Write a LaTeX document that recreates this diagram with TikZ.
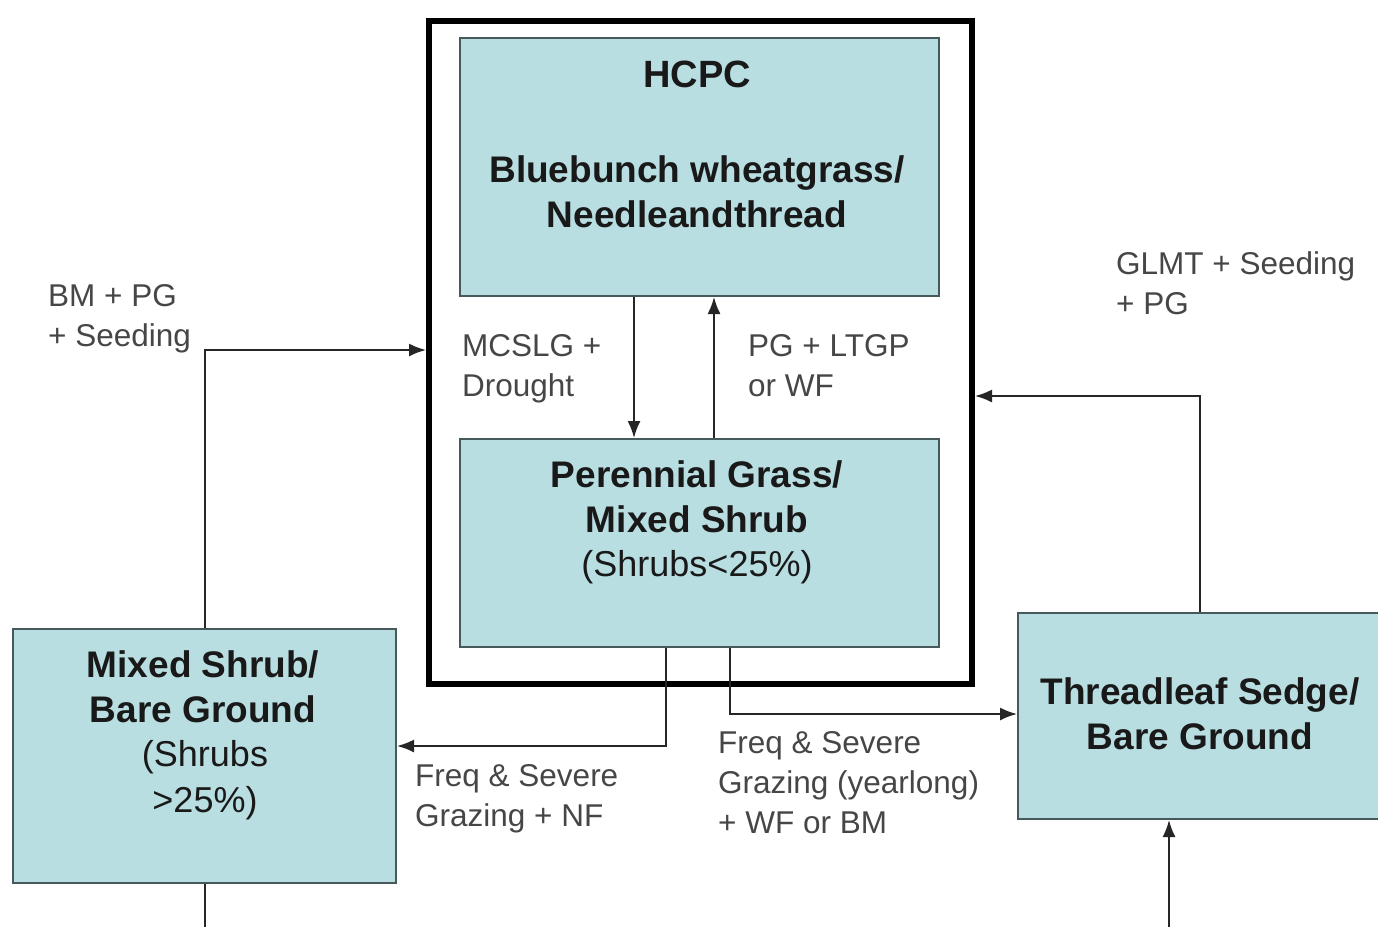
\documentclass[tikz,border=0pt]{standalone}
\usepackage{fontspec}
\setmainfont{Liberation Sans}
\usetikzlibrary{arrows.meta}
\definecolor{boxfill}{RGB}{184,222,225}
\definecolor{boxline}{RGB}{70,90,92}
\definecolor{lbl}{RGB}{70,70,70}
\definecolor{ttl}{RGB}{25,25,25}
\tikzset{
  box/.style={draw=boxline, line width=2pt, fill=boxfill, anchor=north west, inner sep=0pt},
  frame/.style={draw=black, line width=6pt, anchor=north west, inner sep=0pt},
  ttltxt/.style={text=ttl, font=\fontsize{37}{45}\selectfont\bfseries, align=center, inner sep=0pt},
  subtxt/.style={text=ttl, font=\fontsize{36}{46}\selectfont, align=center, inner sep=0pt},
  lbltxt/.style={text=lbl, font=\fontsize{31.5}{40}\selectfont, align=left, anchor=north west, inner sep=0pt},
  conn/.style={draw=black!85, line width=1.8pt},
  arr/.style={conn, -{Latex[length=17pt,width=13pt]}},
}
\begin{document}
\begin{tikzpicture}[x=1pt,y=-1pt]
\useasboundingbox (0,0) rectangle (1378,927);
% frame and boxes
\node[frame, minimum width=543, minimum height=663] (frame) at (426,18) {};
\node[box, minimum width=479, minimum height=258] (hcpc) at (459,37) {};
\node[box, minimum width=479, minimum height=208] (per) at (459,438) {};
\node[box, minimum width=383, minimum height=254] (ms) at (12,628) {};
\node[box, minimum width=370, minimum height=206] (ts) at (1017,612) {};
% texts
\node[ttltxt, anchor=center, font=\fontsize{38}{45}\selectfont\bfseries] (t1) at (697,74) {HCPC};
\node[ttltxt, anchor=center] (t2) at (697,192) {Bluebunch wheatgrass/\\Needleandthread};
\node[ttltxt, anchor=center] (t3) at (697,497) {Perennial Grass/\\Mixed Shrub};
\node[subtxt, anchor=center] (t4) at (697,567) {(Shrubs<25\%)};
\node[ttltxt, anchor=center] (t5) at (203,687) {Mixed Shrub/\\Bare Ground};
\node[subtxt, anchor=center] (t6) at (205,780) {(Shrubs\\>25\%)};
\node[ttltxt, anchor=center] (t7) at (1200,714) {Threadleaf Sedge/\\Bare Ground};
% labels
\node[lbltxt] (l1) at (48,284) {BM + PG\\+ Seeding};
\node[lbltxt] (l2) at (1116,251) {GLMT + Seeding\\+ PG};
\node[lbltxt] (l3) at (462,334) {MCSLG +\\Drought};
\node[lbltxt] (l4) at (748,334) {PG + LTGP\\or WF};
\node[lbltxt] (l5) at (415,764) {Freq \& Severe\\Grazing + NF};
\node[lbltxt] (l6) at (718,731) {Freq \& Severe\\Grazing (yearlong)\\+ WF or BM};
% helper coordinates
\coordinate (cA) at (634,0);
\coordinate (cB) at (714,0);
\coordinate (cL) at (205,350);
\coordinate (cR) at (1200,396);
\coordinate (cD1) at (666,746);
\coordinate (cD2) at (730,714);
\coordinate (bl) at (205,927);
\coordinate (br) at (1169,927);
% connectors
\draw[arr] (cA |- hcpc.south) -- (cA |- per.north);
\draw[arr] (cB |- per.north) -- (cB |- hcpc.south);
\draw[arr] (cL |- ms.north) |- (frame.west |- cL);
\draw[arr] (cR |- ts.north) |- (frame.east |- cR);
\draw[arr] (cD1 |- per.south) |- (ms.east |- cD1);
\draw[arr] (cD2 |- per.south) |- (ts.west |- cD2);
\draw[conn] (bl |- ms.south) -- (bl);
\draw[arr] (br) -- (br |- ts.south);
\end{tikzpicture}
\end{document}
